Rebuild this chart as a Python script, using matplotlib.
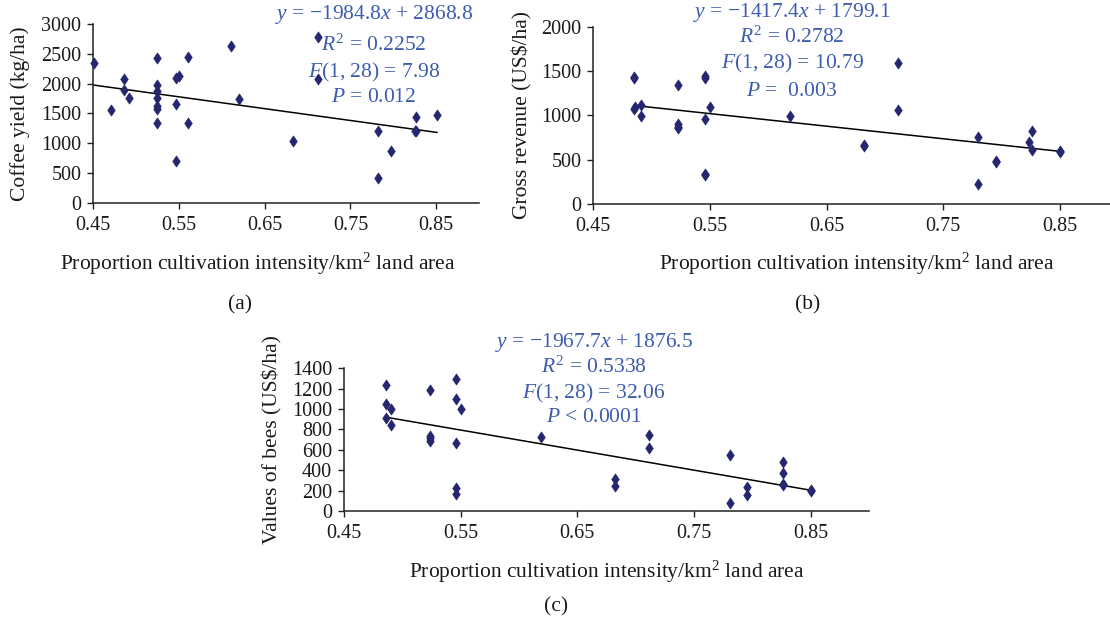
import matplotlib
matplotlib.use("Agg")
import matplotlib.pyplot as plt
from matplotlib.path import Path
import numpy as np

plt.rcParams['font.family'] = ['Liberation Serif', 'DejaVu Serif']
plt.rcParams['mathtext.fontset'] = 'custom'
plt.rcParams['mathtext.rm'] = 'Liberation Serif'
plt.rcParams['mathtext.it'] = 'Liberation Serif:italic'

# ---- data ----
x_ticks = [0.45, 0.55, 0.65, 0.75, 0.85]

# (a) coffee yield
xa = [0.451, 0.471, 0.486, 0.486, 0.492, 0.524, 0.524, 0.524, 0.524, 0.524,
      0.524, 0.524, 0.546, 0.550, 0.546, 0.547, 0.561, 0.561, 0.611, 0.620,
      0.683, 0.712, 0.712, 0.782, 0.782, 0.797, 0.827, 0.827, 0.825, 0.851]
ya = [2340, 1556, 2071, 1892, 1763, 2424, 1976, 1875, 1763, 1623,
      1567, 1343, 2088, 2127, 1657, 700, 2446, 1343, 2631, 1746,
      1035, 2787, 2082, 1203, 409, 868, 1433, 1209, 1200, 1472]

# (b) gross revenue
xb = [0.485, 0.485, 0.485, 0.486, 0.491, 0.491, 0.523, 0.523, 0.523, 0.523,
      0.546, 0.546, 0.546, 0.546, 0.546, 0.550, 0.619, 0.682, 0.682, 0.711,
      0.711, 0.780, 0.780, 0.795, 0.795, 0.826, 0.826, 0.824, 0.850, 0.850]
yb = [1417, 1430, 1072, 1095, 1117, 996, 1342, 899, 853, 870,
      1444, 1420, 959, 327, 340, 1098, 996, 654, 670, 1594,
      1057, 752, 229, 481, 470, 827, 609, 703, 598, 590]

# (c) value of bees
xc = [0.4857, 0.4857, 0.4857, 0.4906, 0.4906, 0.5237, 0.5237, 0.5237, 0.5237,
      0.5457, 0.5457, 0.5457, 0.5457, 0.5457, 0.5506, 0.619, 0.682, 0.682,
      0.7117, 0.7117, 0.7806, 0.7806, 0.7957, 0.7957, 0.826, 0.826, 0.826,
      0.826, 0.85, 0.85]
yc = [1233, 1053, 916, 998, 841, 1184, 736, 690, 720,
      1292, 1099, 671, 222, 167, 1001, 729, 311, 242,
      743, 622, 549, 75, 232, 157, 478, 376, 252,
      260, 206, 200]

# fitted lines (slope, intercept) as reported
fit_a = (-1984.8, 2868.8)
fit_b = (-1417.4, 1799.1)
fit_c = (-1967.7, 1876.5)

stats_a = [r"$y$ = $-$1984.8$x$ + 2868.8", r"$R^2$ = 0.2252",
           r"$F$(1, 28) = 7.98", r"$P$ = 0.012"]
stats_b = [r"$y$ = $-$1417.4$x$ + 1799.1", r"$R^2$ = 0.2782",
           r"$F$(1, 28) = 10.79", r"$P$ =  0.003"]
stats_c = [r"$y$ = $-$1967.7$x$ + 1876.5", r"$R^2$ = 0.5338",
           r"$F$(1, 28) = 32.06", r"$P$ < 0.0001"]

W, H = 1110, 627
fig = plt.figure(figsize=(W / 100, H / 100), dpi=100)
fig.patch.set_facecolor('white')

MARK = '#24276e'
TXT = '#3d5cb0'
INK = '#1a1a1a'
FS_TICK = 14.5
FS_LAB = 15.5
FS_STAT = 15.5
XLABEL = r"Proportion cultivation intensity/km$^2$ land area"

# slightly tall diamond marker
DIAMOND = Path([(0, 1), (0.68, 0), (0, -1), (-0.68, 0), (0, 1)],
               [Path.MOVETO, Path.LINETO, Path.LINETO, Path.LINETO, Path.CLOSEPOLY])


def add_ax(left, right, top, bottom):
    return fig.add_axes([left / W, 1 - bottom / H, (right - left) / W, (bottom - top) / H])


def panel(ax, x, y, fit, ymax, ystep, ylabel, stats, stat_xy, stat_gap):
    ax.plot(x, y, linestyle='none', marker=DIAMOND, markersize=8.0,
            markerfacecolor=MARK, markeredgecolor=MARK, markeredgewidth=0.5,
            clip_on=False, zorder=3)
    xs = np.array([min(x), max(x)])
    ax.plot(xs, fit[0] * xs + fit[1], color='black', lw=1.1, zorder=2)
    ax.set_xlim(0.45, 0.9)
    ax.set_ylim(0, ymax)
    ax.set_xticks(x_ticks)
    ax.set_xticklabels([f"{t:.2f}" for t in x_ticks])
    ax.set_yticks(np.arange(0, ymax + 1, ystep))
    for s in ['top', 'right']:
        ax.spines[s].set_visible(False)
    for s in ['left', 'bottom']:
        ax.spines[s].set_linewidth(1.1)
        ax.spines[s].set_color('#222222')
    ax.tick_params(direction='out', length=4.5, width=1.0, colors='#222222',
                   labelsize=FS_TICK, labelcolor=INK)
    ax.tick_params(axis='x', pad=5)
    ax.tick_params(axis='y', pad=4)
    ax.set_facecolor('none')
    ax.set_ylabel(ylabel, fontsize=FS_LAB, color=INK)
    sx, sy = stat_xy
    offset = 0
    for line, gap in zip(stats, stat_gap):
        offset += gap
        fig.text(sx / W, 1 - (sy + offset) / H, line, ha='center', va='center',
                 fontsize=FS_STAT, color=TXT)


ax_a = add_ax(93.3, 479, 24, 202.7)
panel(ax_a, xa, ya, fit_a, 3000, 500, "Coffee yield (kg/ha)", stats_a,
      (374, 15), [0, 30, 27, 26])
ax_a.yaxis.set_label_coords(-0.165, 0.5)
fig.text(258 / W, 1 - 264 / H, XLABEL, ha='center', va='center', fontsize=FS_LAB, color=INK)
fig.text(240 / W, 1 - 305 / H, "(a)", ha='center', va='center', fontsize=FS_LAB, color=INK)

ax_b = add_ax(593.3, 1118, 26.7, 204)
panel(ax_b, xb, yb, fit_b, 2000, 500, "Gross revenue (US$/ha)", stats_b,
      (792, 13), [0, 24, 26, 29])
ax_b.yaxis.set_label_coords(-0.115, 0.5)
fig.text(857 / W, 1 - 264 / H, XLABEL, ha='center', va='center', fontsize=FS_LAB, color=INK)
fig.text(808 / W, 1 - 305 / H, "(b)", ha='center', va='center', fontsize=FS_LAB, color=INK)

ax_c = add_ax(344, 869, 368.3, 511)
panel(ax_c, xc, yc, fit_c, 1400, 200, "Values of bees (US$/ha)", stats_c,
      (594, 343), [0, 24, 26, 25])
ax_c.yaxis.set_label_coords(-0.118, 0.5)
fig.text(607 / W, 1 - 572 / H, XLABEL, ha='center', va='center', fontsize=FS_LAB, color=INK)
fig.text(556 / W, 1 - 607 / H, "(c)", ha='center', va='center', fontsize=FS_LAB, color=INK)

fig.savefig("out.png", dpi=100, facecolor='white')
